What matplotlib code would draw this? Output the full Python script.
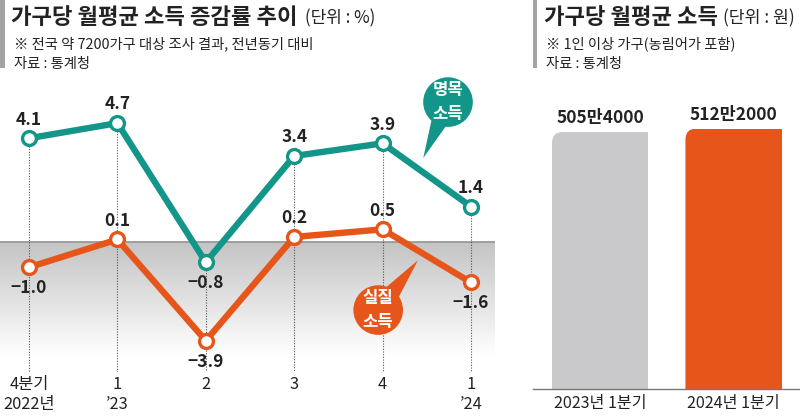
import numpy as np
import matplotlib
matplotlib.use('Agg')
import matplotlib.pyplot as plt
from matplotlib.patches import Rectangle
from matplotlib.colors import LinearSegmentedColormap
from matplotlib.path import Path
from matplotlib.transforms import IdentityTransform

plt.rcParams['font.family'] = ['Noto Sans CJK KR', 'DejaVu Sans']

# ---- data ----
quarters = ['4분기\n2022년', '1\n’23', '2', '3', '4', '1\n’24']
nominal = [4.1, 4.7, -0.8, 3.4, 3.9, 1.4]      # 명목소득 증감률 (%)
real = [-1.0, 0.1, -3.9, 0.2, 0.5, -1.6]       # 실질소득 증감률 (%)

bar_cats = ['2023년 1분기', '2024년 1분기']
bar_vals = [505.4, 512.2]                      # 만원
bar_labels = ['505만4000', '512만2000']

teal = '#139689'
orange = '#e6561b'
grey_bar = '#c9c9cb'
txt = '#222222'

W, H = 800, 417
fig = plt.figure(figsize=(W / 100, H / 100), dpi=100)


def fx(px):
    return px / W


def fy(py):
    return 1 - py / H


# ---- headers ----
fig.add_artist(Rectangle((0, fy(68)), fx(5), 68 / H, transform=fig.transFigure,
                         color='#a3a3a3', lw=0))
fig.text(fx(11), fy(17), '가구당 월평균 소득 증감률 추이', fontsize=16.0,
         fontweight='bold', va='center', color=txt)
fig.text(fx(305), fy(18), '(단위 : %)', fontsize=12.2, va='center', color=txt)
fig.text(fx(14), fy(44), '※ 전국 약 7200가구 대상 조사 결과, 전년동기 대비', fontsize=10.3,
         va='center', color=txt)
fig.text(fx(14), fy(64), '자료 : 통계청', fontsize=10.3, va='center', color=txt)

fig.add_artist(Rectangle((fx(533), fy(68)), fx(4), 68 / H, transform=fig.transFigure,
                         color='#a3a3a3', lw=0))
fig.text(fx(544), fy(17), '가구당 월평균 소득', fontsize=16.0,
         fontweight='bold', va='center', color=txt)
fig.text(fx(723), fy(18), '(단위 : 원)', fontsize=12.4, va='center', color=txt)
fig.text(fx(546), fy(44), '※ 1인 이상 가구(농림어가 포함)', fontsize=10.3,
         va='center', color=txt)
fig.text(fx(546), fy(64), '자료 : 통계청', fontsize=10.3, va='center', color=txt)

# ---- line chart ----
top, bot = 85, 372
ax = fig.add_axes([0, fy(bot), fx(495), (bot - top) / H])
ppu = 25.3
zero_px = 242
ax.set_ylim(-(bot - zero_px) / ppu, (zero_px - top) / ppu)
step = 88.4
ax.set_xlim(-29 / step, (495 - 29) / step)
x = np.arange(len(quarters))

# gradient below zero
x0, x1 = ax.get_xlim()
y0 = ax.get_ylim()[0]
shade = LinearSegmentedColormap.from_list('shade', ['#c4c4c4', '#ffffff'])
grad = np.linspace(0, 1, 200).reshape(-1, 1)
ax.imshow(grad, extent=[x0, x1, -4.5, 0], aspect='auto', cmap=shade,
          zorder=0, origin='upper')
ax.axhline(0, color='#999999', lw=1.3, zorder=1)

for xi, a, b in zip(x, nominal, real):
    ax.plot([xi, xi], [max(a, b), y0], ls=(0, (1.0, 1.4)), color='#555555',
            lw=0.8, zorder=1)

for vals, c in [(nominal, teal), (real, orange)]:
    ax.plot(x, vals, color=c, lw=4.6, zorder=3, solid_joinstyle='miter')
    ax.plot(x, vals, ls='none', marker='o', ms=10, mfc='white', mec=c,
            mew=2.4, zorder=4)


def lab(v):
    return f'{v:.1f}'.replace('-', '−')


for xi, a, b in zip(x, nominal, real):
    for v in (a, b):
        above = v >= 0
        ax.annotate(lab(v), (xi, v), xytext=(0, 13.5 if above else -15),
                    textcoords='offset points', ha='center', va='center',
                    fontsize=12.5, fontweight='bold', color=txt, zorder=5)

bubble = dict(ha='center', va='center', color='white', fontsize=12,
              fontweight='bold', linespacing=1.45, textcoords='data', zorder=6)
ax.annotate('명목\n소득', xy=(4.46, 3.32), xytext=(4.74, 5.53),
            bbox=dict(boxstyle='circle,pad=0.22', fc=teal, ec='none'),
            arrowprops=dict(arrowstyle='wedge,tail_width=1.5', fc=teal, ec='none',
                            patchA=None, shrinkA=0, shrinkB=0), **bubble)
ax.annotate('실질\n소득', xy=(4.40, -0.72), xytext=(3.95, -2.69),
            bbox=dict(boxstyle='circle,pad=0.22', fc=orange, ec='none'),
            arrowprops=dict(arrowstyle='wedge,tail_width=1.5', fc=orange, ec='none',
                            patchA=None, shrinkA=0, shrinkB=0), **bubble)

ax.set_xticks(x, quarters)
ax.tick_params(axis='x', length=0, pad=3, labelsize=11.8, labelcolor=txt)
for t in ax.get_xticklabels():
    t.set_linespacing(1.25)
ax.set_yticks([])
for s in ax.spines.values():
    s.set_visible(False)

# ---- bar chart ----
btop, bbot = 80, 389
ax2 = fig.add_axes([fx(533), fy(bbot), fx(800 - 533), (bbot - btop) / H])
ax2.set_ylim(0, bar_vals[0] * (bbot - btop) / 257)
ax2.set_xlim(-67 / 133.5, 200 / 133.5)
bx = np.arange(len(bar_cats))
bars = ax2.bar(bx, bar_vals, width=0.72, color=[grey_bar, orange], zorder=2)
for b, l in zip(bars, bar_labels):
    ax2.annotate(l, (b.get_x() + b.get_width() / 2, b.get_height()),
                 xytext=(0, 10), textcoords='offset points', ha='center',
                 va='center', fontsize=12.5, fontweight='bold', color=txt)
    # round the top-left corner of each bar
    (xa, ya), (xb, yb) = ax2.transData.transform(
        [(b.get_x(), 0), (b.get_x() + b.get_width(), b.get_height())])
    r = 11
    clip = Path([(xa, ya - 2), (xb + 2, ya - 2), (xb + 2, yb), (xa + r, yb),
                 (xa, yb), (xa, yb - r), (xa, ya - 2)],
                [Path.MOVETO, Path.LINETO, Path.LINETO, Path.LINETO,
                 Path.CURVE3, Path.CURVE3, Path.CLOSEPOLY])
    b.set_clip_path(clip, IdentityTransform())
ax2.set_xticks(bx, bar_cats)
ax2.tick_params(axis='x', length=0, pad=4, labelsize=11.6, labelcolor=txt)
ax2.set_yticks([])
for k in ['top', 'right', 'left']:
    ax2.spines[k].set_visible(False)
ax2.spines['bottom'].set_color('#777777')
ax2.spines['bottom'].set_linewidth(1.0)

fig.savefig('out.png', dpi=100, facecolor='white')
